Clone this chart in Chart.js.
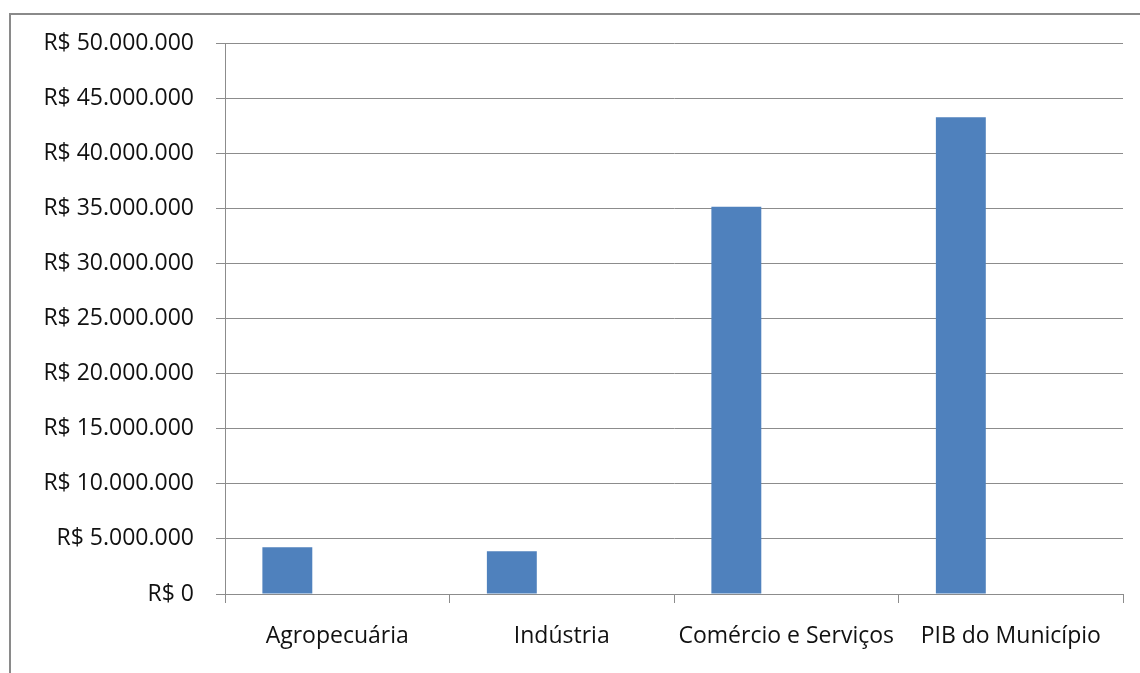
<!DOCTYPE html>
<html>
<head>
<meta charset="utf-8">
<script src="https://cdn.jsdelivr.net/npm/chart.js@4.4.1/dist/chart.umd.min.js"></script>
<style>
  html, body { margin: 0; padding: 0; background: #fff; }
  #wrap { position: relative; width: 1140px; height: 673px; }
  #frame { position: absolute; left: 9px; top: 13px; width: 1140px; height: 680px;
           border: 2px solid #8a8a8a; box-sizing: border-box; pointer-events: none; }
  canvas { position: absolute; left: 0; top: 0; }
</style>
</head>
<body>
<div id="wrap">
  <canvas id="pibChart" width="1140" height="673"></canvas>
  <div id="frame"></div>
</div>
<script>
// PIB por setor (R$)
const categories = ['Agropecuária', 'Indústria', 'Comércio e Serviços', 'PIB do Município'];
const values = [4240000, 3880000, 35150000, 43270000];
// the original sheet had two more (empty) series, which push the bars to the left
const emptySeriesA = [null, null, null, null];
const emptySeriesB = [null, null, null, null];
const yTicks = { min: 0, max: 50000000, step: 5000000 };

function formatReais(v) {
  return 'R$ ' + String(Math.round(v)).replace(/\B(?=(\d{3})+(?!\d))/g, '.');
}

const gridGray = '#8c8c8c';
const labelFont = { family: '"Open Sans", sans-serif', size: 23 };

const ctx = document.getElementById('pibChart').getContext('2d');
const pibChart = new Chart(ctx, {
  type: 'bar',
  data: {
    labels: categories,
    datasets: [{
      label: 'Valor',
      data: values,
      backgroundColor: '#4F81BD',
      borderWidth: 0
    }, {
      label: 'vazio 1',
      data: emptySeriesA,
      backgroundColor: '#C0504D'
    }, {
      label: 'vazio 2',
      data: emptySeriesB,
      backgroundColor: '#9BBB59'
    }]
  },
  options: {
    responsive: false,
    animation: false,
    categoryPercentage: 0.667,
    barPercentage: 1,
    layout: { padding: { top: 43, right: 17, bottom: 0, left: 0 } },
    plugins: {
      legend: { display: false },
      tooltip: { enabled: false }
    },
    scales: {
      x: {
        grid: { offset: true, drawOnChartArea: false, drawTicks: true, tickLength: 9, color: gridGray, lineWidth: 1 },
        border: { color: gridGray, width: 1 },
        ticks: { color: '#111', font: labelFont, padding: 20, maxRotation: 0, autoSkip: false },
        afterFit: (scale) => { scale.height = 79; }
      },
      y: {
        min: yTicks.min,
        max: yTicks.max,
        grid: { color: gridGray, lineWidth: 1, drawTicks: true, tickLength: 9 },
        border: { color: gridGray, width: 1 },
        ticks: {
          stepSize: yTicks.step,
          color: '#111',
          font: labelFont,
          padding: 22,
          callback: (v) => formatReais(v)
        },
        afterFit: (scale) => { scale.width = 225; }
      }
    }
  }
});
</script>
</body>
</html>
